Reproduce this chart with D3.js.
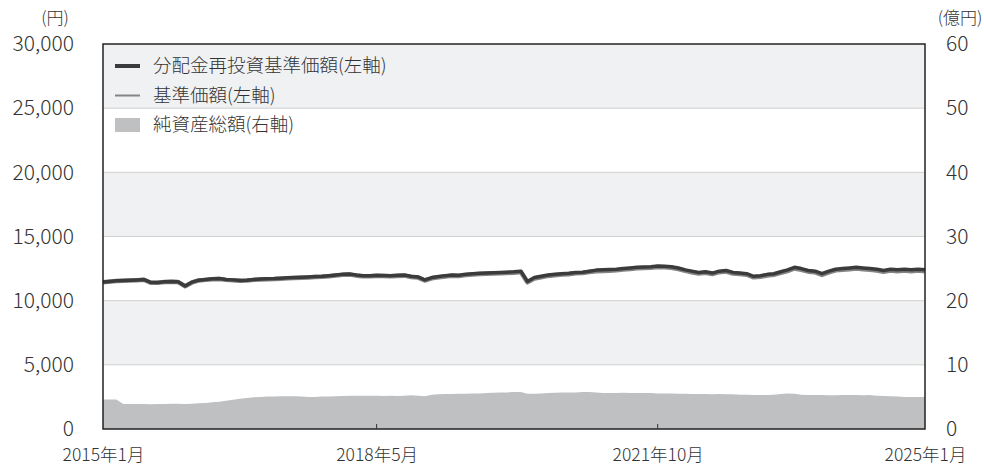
<!DOCTYPE html>
<html>
<head>
<meta charset="utf-8">
<script src="https://cdn.jsdelivr.net/npm/d3@7"></script>
<style>
body{margin:0;background:#fff;}
svg{font-family:"Noto Sans CJK JP",sans-serif;font-weight:300;}
</style>
</head>
<body>
<div id="chart1"></div>
<script>

// monthly points, 2015/1 .. 2025/1
var months = d3.timeMonth.range(new Date(2015,0,1), new Date(2025,0,2));

// 分配金再投資基準価額 (円)
var navReinv = [
	11450,11500,11550,11580,11600,11620,11650,11430,11420,11480,11500,11480,
	11150,11450,11600,11650,11700,11720,11650,11620,11580,11600,11650,11680,
	11700,11720,11750,11780,11800,11830,11850,11880,11900,11950,12000,12050,
	12080,12000,11950,11950,11980,11970,11950,11980,12000,11900,11850,11620,
	11800,11880,11950,12000,11980,12050,12100,12130,12150,12180,12200,12220,
	12250,12300,11500,11800,11900,12000,12050,12100,12130,12200,12220,12300,
	12380,12400,12420,12450,12500,12550,12600,12620,12650,12700,12680,12650,
	12550,12400,12300,12200,12250,12150,12300,12350,12200,12150,12100,11900,
	11950,12050,12100,12250,12400,12600,12500,12350,12300,12100,12300,12450,
	12500,12550,12600,12550,12500,12450,12350,12450,12400,12450,12400,12450,
	12400];

// 基準価額 (円)
var nav = [
	11440,11490,11530,11560,11580,11600,11630,11400,11390,11450,11470,11450,
	11120,11420,11570,11620,11670,11690,11620,11590,11550,11570,11620,11650,
	11660,11680,11710,11740,11760,11790,11810,11840,11860,11910,11960,12010,
	12030,11950,11900,11900,11930,11920,11900,11930,11950,11850,11800,11570,
	11740,11820,11890,11940,11920,11990,12040,12070,12090,12120,12140,12160,
	12180,12230,11430,11730,11830,11930,11980,12030,12060,12130,12150,12230,
	12300,12320,12340,12370,12420,12470,12520,12540,12570,12620,12600,12570,
	12470,12320,12220,12120,12170,12070,12220,12270,12120,12070,12020,11820,
	11860,11960,12010,12160,12310,12510,12410,12260,12210,12010,12210,12360,
	12400,12450,12500,12450,12400,12350,12250,12350,12300,12350,12300,12350,
	12300];

// 純資産総額 (億円)
var netAssets = [
	4.6,4.6,4.6,3.9,3.9,3.9,3.9,3.85,3.9,3.9,3.95,3.95,
	3.9,3.95,4.0,4.05,4.15,4.25,4.4,4.55,4.7,4.85,4.95,5.0,
	5.05,5.05,5.1,5.1,5.1,5.05,5.0,5.0,5.05,5.05,5.1,5.15,
	5.2,5.2,5.2,5.2,5.2,5.15,5.2,5.15,5.2,5.25,5.2,5.1,
	5.35,5.4,5.45,5.45,5.5,5.5,5.55,5.55,5.6,5.65,5.7,5.7,
	5.75,5.75,5.5,5.5,5.55,5.6,5.65,5.7,5.7,5.7,5.75,5.75,
	5.7,5.6,5.6,5.6,5.65,5.6,5.6,5.6,5.6,5.55,5.55,5.55,
	5.5,5.5,5.45,5.45,5.45,5.4,5.45,5.4,5.4,5.35,5.35,5.3,
	5.3,5.3,5.35,5.45,5.55,5.5,5.35,5.3,5.3,5.3,5.25,5.25,
	5.3,5.3,5.3,5.25,5.3,5.2,5.15,5.1,5.05,5.0,5.0,5.0,
	5.0];

var leftTicks = [0,5000,10000,15000,20000,25000,30000];
var rightTicks = [0,10,20,30,40,50,60];
var xTickDates = [new Date(2015,0,1), new Date(2018,4,1), new Date(2021,9,1), new Date(2025,0,1)];
var xTickLabels = ["2015年1月","2018年5月","2021年10月","2025年1月"];
var legendNames = ["分配金再投資基準価額(左軸)","基準価額(左軸)","純資産総額(右軸)"];

var W = 984, H = 469;
var margin = {top:44, right:59, bottom:40, left:103};
var width = W - margin.left - margin.right,
	height = H - margin.top - margin.bottom;

var textCol = "#333";
var fam = '"Noto Sans CJK JP",sans-serif';

var x = d3.scaleTime().domain([months[0], months[months.length-1]]).range([0,width]);
var yL = d3.scaleLinear().domain([0,30000]).range([height,0]);
var yR = d3.scaleLinear().domain([0,60]).range([height,0]);

var svg = d3.select('#chart1').append('svg')
	.attr('width',W)
	.attr('height',H);

var g = svg.append('g')
	.attr('transform','translate('+margin.left+','+margin.top+')');

//---alternating bands---
g.selectAll('.band')
	.data(d3.range(leftTicks.length-1).filter(function(i){return i%2==0;}))
	.enter().append('rect')
		.attr('x',0)
		.attr('width',width)
		.attr('y',function(i){return yL(leftTicks[i+1]+5000);})
		.attr('height',function(i){return yL(leftTicks[i+1]) - yL(leftTicks[i+1]+5000);})
		.style('fill','#f0f1f3');

//---grid lines---
g.selectAll('.grid')
	.data(leftTicks.slice(1,-1))
	.enter().append('line')
		.attr('x1',0).attr('x2',width)
		.attr('y1',function(d){return yL(d);})
		.attr('y2',function(d){return yL(d);})
		.style('stroke','#cfcfcf')
		.style('stroke-width',1);

//---net assets area---
var area = d3.area()
	.x(function(d,i){return x(months[i]);})
	.y0(height)
	.y1(function(d){return yR(d);});

g.append('path')
	.datum(netAssets)
	.attr('d',area)
	.style('fill','#bfc0c2');

//---lines---
var lineL = d3.line()
	.x(function(d,i){return x(months[i]);})
	.y(function(d){return yL(d);});

g.append('path')
	.datum(nav)
	.attr('d',lineL)
	.style('fill','none')
	.style('stroke','#858585')
	.style('stroke-width',4.5)
	.style('stroke-linejoin','round');

g.append('path')
	.datum(navReinv)
	.attr('d',lineL)
	.style('fill','none')
	.style('stroke','#3b3b3b')
	.style('stroke-width',3.5)
	.style('stroke-linejoin','round');

//---frame---
g.append('rect')
	.attr('width',width)
	.attr('height',height)
	.style('fill','none')
	.style('stroke','#222')
	.style('stroke-width',1.5);

//---axes---
var xAxis = d3.axisBottom(x)
	.tickValues(xTickDates)
	.tickSize(0)
	.tickPadding(20)
	.tickFormat(function(d,i){return xTickLabels[i];});

var gx = g.append('g')
	.attr('transform','translate(0,'+height+')')
	.call(xAxis);
gx.select('.domain').remove();
gx.selectAll('text').style('font-size','17.5px').style('fill',textCol)
	.style('font-family',fam).style('font-weight',300);

// small inner tick marks
g.selectAll('.xt')
	.data(xTickDates.slice(1,-1))
	.enter().append('line')
		.attr('x1',function(d){return x(d);})
		.attr('x2',function(d){return x(d);})
		.attr('y1',height)
		.attr('y2',height-5)
		.style('stroke','#333')
		.style('stroke-width',1);

var gl = g.append('g')
	.call(d3.axisLeft(yL).tickValues(leftTicks).tickSize(0).tickPadding(29)
		.tickFormat(d3.format(',')));
gl.select('.domain').remove();
gl.selectAll('text').style('font-size','21px').style('fill',textCol)
	.style('font-family',fam).style('font-weight',300);

var gr = g.append('g')
	.attr('transform','translate('+width+',0)')
	.call(d3.axisRight(yR).tickValues(rightTicks).tickSize(0).tickPadding(21));
gr.select('.domain').remove();
gr.selectAll('text').style('font-size','21px').style('fill',textCol)
	.style('font-family',fam).style('font-weight',300);

//---units---
svg.append('text')
	.attr('x',55).attr('y',24)
	.attr('text-anchor','middle')
	.style('font-size','17px').style('fill',textCol)
	.text('(円)');
svg.append('text')
	.attr('x',960).attr('y',24)
	.attr('text-anchor','middle')
	.style('font-size','17px').style('fill',textCol)
	.text('(億円)');

//---legend---
var leg = g.append('g').attr('transform','translate(12,22)');
var rowH = 29.5;

leg.append('line')
	.attr('x1',0).attr('x2',25).attr('y1',0).attr('y2',0)
	.style('stroke','#3b3b3b').style('stroke-width',4);
leg.append('line')
	.attr('x1',0).attr('x2',25).attr('y1',rowH).attr('y2',rowH)
	.style('stroke','#858585').style('stroke-width',2);
leg.append('rect')
	.attr('x',0).attr('y',2*rowH-7).attr('width',25).attr('height',14)
	.style('fill','#bfc0c2');

leg.selectAll('.lt')
	.data(legendNames)
	.enter().append('text')
		.attr('x',38)
		.attr('y',function(d,i){return i*rowH;})
		.attr('dy','0.35em')
		.style('font-size','18.5px')
		.style('fill',textCol)
		.text(function(d){return d;});

</script>
</body>
</html>
